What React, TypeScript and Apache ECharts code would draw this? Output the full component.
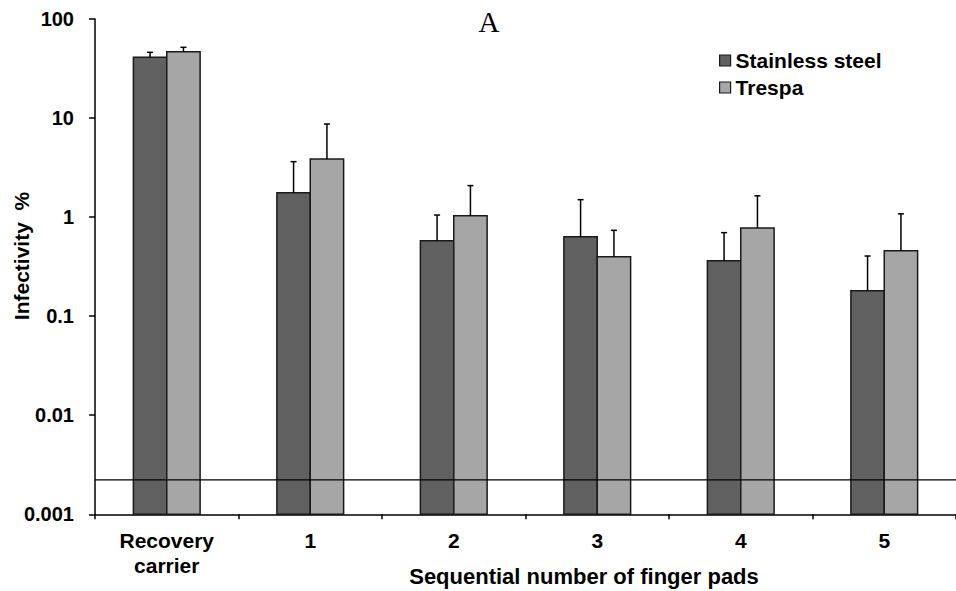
import React, { useEffect, useRef } from "react";
import * as echarts from "echarts";

const categories = ["Recovery\ncarrier", "1", "2", "3", "4", "5"];
const stainless = [41.0, 1.76, 0.578, 0.634, 0.363, 0.181];
const stainlessUpper = [46.1, 3.63, 1.05, 1.5, 0.697, 0.405];
const trespa = [46.8, 3.86, 1.03, 0.398, 0.776, 0.458];
const trespaUpper = [51.8, 8.71, 2.08, 0.736, 1.64, 1.08];
const detectionLimit = 0.00223;
const yTickLabels = ["0.001", "0.01", "0.1", "1", "10", "100"];
const seriesNames = ["Stainless steel", "Trespa"];
const seriesColors = ["#606060", "#a6a6a6"];

const FONT = "'Liberation Sans', Arial, sans-serif";
const GAP = 0.535;
const Y_MIN = 0.001;
const Y_MAX = 100;

export default function App() {
  const ref = useRef<HTMLDivElement>(null);
  useEffect(() => {
    if (!ref.current) return;
    const chart = echarts.init(ref.current, null, { renderer: "svg" });

    const barSeries = (k: number, values: number[], uppers: number[]) => ({
      name: seriesNames[k],
      type: "custom",
      z: 2,
      itemStyle: { color: seriesColors[k], borderColor: "#1a1a1a", borderWidth: 1.5 },
      data: values.map((v, i) => [i, v, uppers[i]]),
      encode: { x: 0, y: 1 },
      renderItem: (params: any, api: any) => {
        const i = api.value(0);
        const band = api.coord([1, 1])[0] - api.coord([0, 1])[0];
        const bw = (band * (1 - GAP)) / 2;
        const center = api.coord([i, api.value(1)])[0];
        const x0 = k === 0 ? center - bw : center;
        const yTop = api.coord([i, api.value(1)])[1];
        const yBase = api.coord([i, Y_MIN])[1];
        const yErr = api.coord([i, api.value(2)])[1];
        const xe = x0 + bw / 2;
        const lineStyle = { stroke: "#000", lineWidth: 1.5 };
        return {
          type: "group",
          children: [
            {
              type: "rect",
              shape: { x: x0, y: yTop, width: bw, height: yBase - yTop },
              style: { fill: seriesColors[k], stroke: "#1a1a1a", lineWidth: 1.5 },
            },
            { type: "line", shape: { x1: xe, y1: yTop, x2: xe, y2: yErr }, style: lineStyle },
            { type: "line", shape: { x1: xe - 3, y1: yErr, x2: xe + 3, y2: yErr }, style: lineStyle },
          ],
        };
      },
    });

    chart.setOption({
      animation: false,
      backgroundColor: "#ffffff",
      grid: { left: 95, top: 19, width: 864, height: 495.3, containLabel: false },
      legend: {
        data: seriesNames,
        orient: "vertical",
        left: 719,
        top: 49,
        padding: 0,
        itemWidth: 11,
        itemHeight: 11,
        itemGap: 4,
        icon: "rect",
        itemStyle: { borderColor: "#1a1a1a", borderWidth: 1.2 },
        textStyle: { fontFamily: FONT, fontWeight: "bold", fontSize: 21, color: "#000", lineHeight: 23 },
      },
      xAxis: {
        type: "category",
        data: categories,
        boundaryGap: true,
        axisLine: { lineStyle: { color: "#000", width: 1.5 } },
        axisTick: { show: true, length: 5, inside: false, lineStyle: { color: "#000", width: 1.5 } },
        axisLabel: {
          interval: 0,
          margin: 14,
          fontFamily: FONT,
          fontWeight: "bold",
          fontSize: 21,
          color: "#000",
          lineHeight: 25,
        },
        splitLine: { show: false },
      },
      yAxis: {
        type: "log",
        logBase: 10,
        min: Y_MIN,
        max: Y_MAX,
        axisLine: { show: true, lineStyle: { color: "#000", width: 1.5 } },
        axisTick: { show: true, length: 6, inside: false, lineStyle: { color: "#000", width: 1.5 } },
        minorTick: { show: false },
        splitLine: { show: false },
        axisLabel: {
          margin: 21,
          fontFamily: FONT,
          fontWeight: "bold",
          fontSize: 20,
          color: "#000",
          formatter: (v: number) => yTickLabels[Math.round(Math.log10(v)) + 3],
        },
      },
      graphic: [
        {
          type: "text",
          x: 489,
          y: 22,
          style: {
            text: "A",
            fontFamily: "'Liberation Serif', 'Times New Roman', serif",
            fontSize: 29,
            fill: "#000",
            textAlign: "center",
            textVerticalAlign: "middle",
          },
        },
        {
          type: "text",
          x: 21,
          y: 256,
          rotation: Math.PI / 2,
          style: {
            text: "Infectivity  %",
            fontFamily: FONT,
            fontWeight: "bold",
            fontSize: 21,
            fill: "#000",
            textAlign: "center",
            textVerticalAlign: "middle",
          },
        },
        {
          type: "text",
          x: 584,
          y: 576,
          style: {
            text: "Sequential number of finger pads",
            fontFamily: FONT,
            fontWeight: "bold",
            fontSize: 22,
            fill: "#000",
            textAlign: "center",
            textVerticalAlign: "middle",
          },
        },
      ],
      series: [
        barSeries(0, stainless, stainlessUpper),
        barSeries(1, trespa, trespaUpper),
        {
          name: "limit",
          type: "custom",
          z: 10,
          data: [[0, detectionLimit]],
          encode: { x: 0, y: 1 },
          renderItem: (params: any, api: any) => {
            const cs = params.coordSys;
            const y = api.coord([0, api.value(1)])[1];
            return {
              type: "line",
              shape: { x1: cs.x, y1: y, x2: cs.x + cs.width, y2: y },
              style: { stroke: "#000", lineWidth: 1.3 },
            };
          },
        },
      ],
    });
    return () => chart.dispose();
  }, []);
  return (
    <div
      ref={ref}
      style={{ position: "absolute", left: 0, top: 0, width: 956, height: 591, background: "#fff" }}
    />
  );
}
